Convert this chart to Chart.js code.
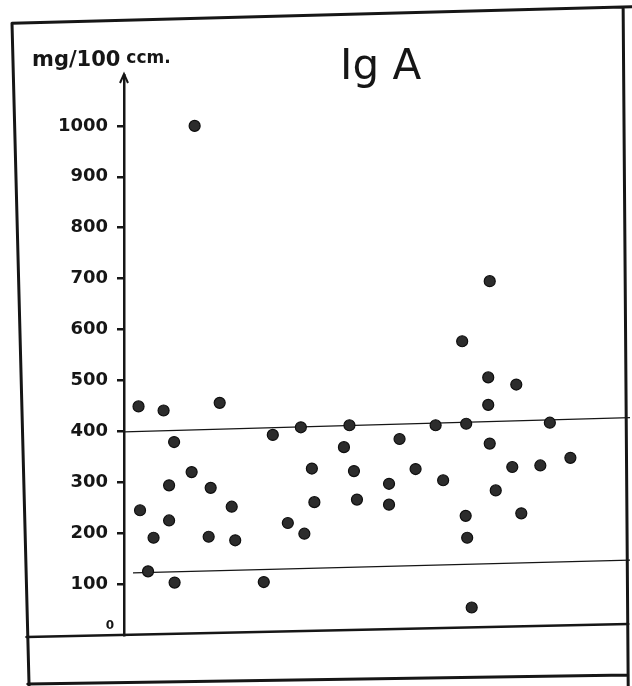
<!DOCTYPE html>
<html>
<head>
<meta charset="utf-8">
<script src="https://cdn.jsdelivr.net/npm/chart.js@4.4.1/dist/chart.umd.min.js"></script>
<style>
  html, body { margin: 0; padding: 0; background: #fff; }
  #wrap { width: 632px; height: 686px; position: relative; }
</style>
</head>
<body>
<div id="wrap"><canvas id="c" width="632" height="686"></canvas></div>
<script>
// ---- data ----
const chartTitle = "Ig A";
const unitLabel = "mg/100";
const unitSuffix = " ccm.";
const yTickValues = [0, 100, 200, 300, 400, 500, 600, 700, 800, 900, 1000];

// horizontal position of each subject (arbitrary order units 0..100) and IgA value
const subjectX = [2.9, 3.2, 4.8, 5.9, 7.9, 9.0, 9.0, 10.0, 10.1, 13.5,
                  14.1, 16.9, 17.3, 19.1, 21.5, 22.2, 27.9, 29.7, 32.7, 35.3,
                  36.0, 37.5, 38.0, 43.9, 45.0, 45.9, 46.5, 52.9, 52.9, 55.0,
                  58.2, 62.2, 63.7, 67.5, 68.3, 68.2, 68.5, 69.4, 72.7, 72.7,
                  73.0, 73.0, 74.2, 77.5, 78.3, 79.3, 83.1, 85.0, 89.1];
const igaValues = [449, 245, 125, 191, 441, 294, 225, 379, 103, 320,
                   1000, 193, 289, 456, 252, 186, 104, 393, 220, 408,
                   199, 327, 261, 369, 412, 322, 266, 297, 256, 385,
                   326, 412, 304, 577, 415, 234, 191, 54, 506, 452,
                   376, 695, 284, 330, 492, 239, 333, 417, 348];

// normal range limits (as drawn, slightly tilted)
const upperLimitX = [0, 101];
const upperLimitY = [399, 427];
const lowerLimitX = [1.8, 101];
const lowerLimitY = [122, 147];

const FONT = '"DejaVu Sans", "Liberation Sans", sans-serif';
const INK = '#161616';

const framePlugin = {
  id: 'frame',
  beforeDraw(chart) {
    const ctx = chart.ctx, W = chart.width, H = chart.height;
    ctx.save();
    ctx.fillStyle = '#fff';
    ctx.fillRect(0, 0, W, H);
    ctx.strokeStyle = INK;
    ctx.lineCap = 'round';
    // outer frame (scan is slightly tilted)
    ctx.lineWidth = 3;
    ctx.beginPath();
    ctx.moveTo(W * 0.019, H * 0.034);
    ctx.lineTo(W, H * 0.010);
    ctx.moveTo(W * 0.019, H * 0.034);
    ctx.lineTo(W * 0.046, H);
    ctx.moveTo(W * 0.986, H * 0.012);
    ctx.lineTo(W * 0.994, H);
    ctx.moveTo(W * 0.044, H * 0.997);
    ctx.lineTo(W * 0.994, H * 0.984);
    ctx.stroke();
    // baseline across the whole sheet
    const yb = chart.scales.y.getPixelForValue(0);
    ctx.lineWidth = 2.6;
    ctx.beginPath();
    ctx.moveTo(W * 0.042, yb + 2);
    ctx.lineTo(W * 0.994, yb - 11);
    ctx.stroke();
    ctx.restore();
  },
  afterDraw(chart) {
    const ctx = chart.ctx, a = chart.chartArea, ys = chart.scales.y;
    ctx.save();
    ctx.fillStyle = INK;
    ctx.strokeStyle = INK;
    // arrow head on top of y axis
    ctx.lineWidth = 2;
    ctx.beginPath();
    ctx.moveTo(a.left - 4, a.top + 8);
    ctx.lineTo(a.left, a.top - 1);
    ctx.lineTo(a.left + 4, a.top + 8);
    ctx.stroke();
    // unit label
    ctx.textBaseline = 'alphabetic';
    ctx.textAlign = 'left';
    ctx.font = 'bold 21px ' + FONT;
    ctx.fillText(unitLabel, 32, 66);
    const w = ctx.measureText(unitLabel).width;
    ctx.font = 'bold 17px ' + FONT;
    ctx.fillText(unitSuffix, 32 + w, 63);
    // title
    ctx.font = '42px ' + FONT;
    ctx.fillText(chartTitle, 340, 79);
    // zero label (drawn small, just above the baseline)
    ctx.font = 'bold 12px ' + FONT;
    ctx.textAlign = 'center';
    ctx.fillText('0', a.left - 14, ys.getPixelForValue(0) - 6);
    ctx.restore();
  }
};

const pts = subjectX.map((x, i) => ({ x: x, y: igaValues[i] }));
const up = upperLimitX.map((x, i) => ({ x: x, y: upperLimitY[i] }));
const lo = lowerLimitX.map((x, i) => ({ x: x, y: lowerLimitY[i] }));

new Chart(document.getElementById('c'), {
  type: 'scatter',
  data: {
    datasets: [
      { label: 'upper', data: up, showLine: true, pointRadius: 0, borderColor: INK, borderWidth: 1.4, fill: false, order: 2, clip: false },
      { label: 'lower', data: lo, showLine: true, pointRadius: 0, borderColor: INK, borderWidth: 1.4, fill: false, order: 2, clip: false },
      { label: 'IgA', data: pts, pointRadius: 5.5, pointHoverRadius: 5.5,
        backgroundColor: '#2c2c2c', borderColor: '#0e0e0e', borderWidth: 1.2, order: 1 }
    ]
  },
  options: {
    responsive: false,
    animation: false,
    devicePixelRatio: 1,
    events: [],
    layout: { padding: { left: 0, right: 7, top: 75, bottom: 51 } },
    plugins: { legend: { display: false }, title: { display: false }, tooltip: { enabled: false } },
    scales: {
      x: { type: 'linear', min: 0, max: 100, display: false },
      y: {
        type: 'linear', min: 0, max: 1100,
        afterBuildTicks(scale) { scale.ticks = yTickValues.map(v => ({ value: v })); },
        afterFit(scale) { scale.width = 124; },
        ticks: {
          padding: 9,
          color: INK,
          font: { family: FONT, size: 18, weight: 'bold' },
          callback: (v) => (v === 0 ? '' : String(v))
        },
        grid: {
          display: true, drawOnChartArea: false, drawTicks: true, tickLength: 7,
          tickColor: (c) => (c.tick && c.tick.value === 0 ? 'rgba(0,0,0,0)' : INK),
          lineWidth: 2.5
        },
        border: { display: true, color: INK, width: 2.5 }
      }
    }
  },
  plugins: [framePlugin]
});
</script>
</body>
</html>
